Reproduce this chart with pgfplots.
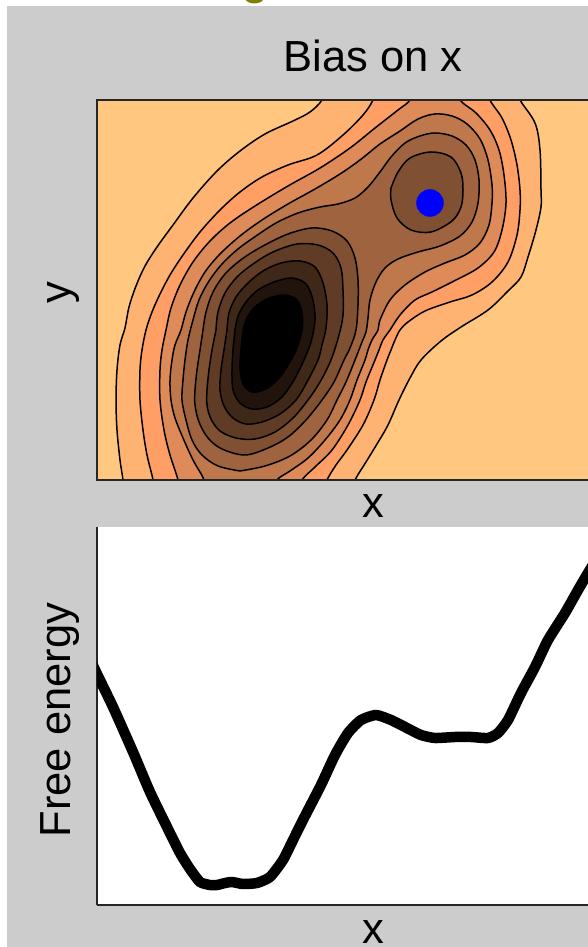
\documentclass[border=0pt]{standalone}
\usepackage{pgfplots}
\pgfplotsset{compat=1.18}
\usepackage{fontspec}
\setmainfont{Liberation Sans}
\definecolor{cuA}{RGB}{255,199,127}
\definecolor{cuB}{RGB}{255,179,114}
\definecolor{cuC}{RGB}{255,159,101}
\definecolor{cuD}{RGB}{223,139,89}
\definecolor{cuE}{RGB}{191,120,76}
\definecolor{cuF}{RGB}{159,100,63}
\definecolor{cuG}{RGB}{128,80,51}
\definecolor{cuH}{RGB}{96,60,38}
\definecolor{cuI}{RGB}{64,40,25}
\definecolor{cuJ}{RGB}{32,20,13}
\definecolor{bgray}{RGB}{204,204,204}
\definecolor{frm}{RGB}{38,38,38}
\definecolor{olivet}{RGB}{128,128,0}
\newcommand{\lbl}{\fontsize{43.5}{50}\selectfont}
\pgfplotsset{cont/.style={draw=black, line width=1.5pt, line join=round, line cap=round, smooth, tension=0.55}}
\begin{document}
\begin{tikzpicture}
\useasboundingbox (0,0) rectangle (588pt,947pt);
\clip (0,0) rectangle (588pt,947pt);
\fill[white] (0,0) rectangle (588pt,947pt);
\fill[bgray] (7pt,0) rectangle (588pt,941pt);
\node[anchor=base, text=olivet, font=\fontsize{50}{56}\selectfont, inner sep=0] at (255pt,953pt) {g};
\node[anchor=base, font=\lbl, inner sep=0] at (373pt,875pt) {Bias on x};
\node[anchor=base, font=\lbl, inner sep=0] at (373pt,429pt) {x};
\node[anchor=base, font=\lbl, inner sep=0] at (373pt,4pt) {x};
\node[anchor=base, rotate=90, font=\lbl, inner sep=0] at (70pt,654pt) {y};
\node[anchor=base, rotate=90, font=\lbl, inner sep=0] at (70pt,227pt) {Free energy};

\begin{axis}[
  at={(373pt,657pt)}, anchor=center,
  scale only axis, width=552pt, height=380pt,
  xmin=97, xmax=649, ymin=100, ymax=480, y dir=reverse,
  ticks=none, axis on top,
  axis background/.style={fill=cuA},
  axis line style={draw=frm, line width=1.6pt},
]
% level 1
\addplot[cont, fill=cuB] coordinates {
(124,495) (123,480) (120,460) (117,430) (116,400) (117,370) (120,345) (125,328) (129,307) (136,286) (145,266) (157,247) (173,225) (193,198) (217,171) (240,151) (265,134) (293,121) (310,112) (322,100) (327,85)
(515,85) (520,100) (535,123) (540,150) (541,190) (541,207) (536,230) (528,257) (521,277) (508,291) (488,310) (461,327) (441,341) (421,360) (410,378) (399,400) (388,425) (377,444) (366,462) (355,480) (350,495)};
% level 2
\addplot[cont, fill=cuC] coordinates {
(154,495) (153,480) (147,455) (143,430) (140,400) (140,370) (142,350) (146,330) (152,312) (160,294) (170,275) (183,255) (200,232) (220,210) (240,192) (262,177) (288,165) (317,155) (343,135) (363,115) (373,100) (377,85)
(488,85) (490,100) (502,118) (511,140) (517,165) (520,190) (520,210) (517,235) (508,262) (492,282) (472,295) (450,302) (425,311) (408,322) (400,330) (395,340) (391,350) (387,360) (380,380) (374,400) (363,425) (347,450) (336,465) (327,480) (322,495)};
% level 3
\addplot[cont, fill=cuD] coordinates {
(179,495) (178,480) (170,455) (164,430) (160,400) (160,370) (162,350) (166,330) (171,308) (180,285) (193,262) (210,241) (230,223) (255,206) (288,186) (320,168) (350,148) (375,128) (398,110) (410,100) (414,85)
(457,85) (460,100) (476,113) (490,130) (499,150) (504,175) (506,203) (502,230) (494,252) (478,268) (456,280) (432,292) (415,300) (400,315) (390,330) (383,340) (379,350) (375,360) (366,382) (360,400) (348,425) (332,450) (315,467) (302,480) (297,495)};
% level 4
\addplot[cont, fill=cuE] coordinates {
(205,495) (204,480) (193,460) (183,438) (175,418) (171,400) (170,380) (172,360) (175,345) (181,330) (186,312) (194,292) (205,272) (220,254) (240,236) (262,220) (288,204) (315,189) (340,174) (360,160) (380,144) (400,131) (418,119) (435,114) (452,116) (467,124) (480,139) (488,160) (492,185) (492,203) (489,225) (480,243) (465,255) (445,263) (425,272) (405,285) (390,300) (380,320) (378,330) (372,340) (368,350) (365,360) (357,380) (350,400) (340,420) (325,440) (308,458) (290,471) (277,480) (272,495)};
% level 5
\addplot[cont, fill=cuF] coordinates {
(240,471) (218,466) (202,455) (192,440) (186,420) (182,400) (183,380) (185,360) (188,340) (193,320) (199,300) (209,281) (222,264) (238,249) (256,236) (276,223) (298,213) (320,207) (338,204) (355,198) (368,187) (380,172) (391,157) (405,143) (420,136) (435,133) (452,136) (466,145) (475,160) (479,180) (478,203) (472,222) (460,236) (440,246) (418,252) (398,259) (385,268) (376,282) (370,300) (368,318) (366,332) (362,342) (355,360) (346,382) (337,400) (327,420) (311,440) (290,456) (265,466) (240,471)};
% level 6 (deep basin)
\addplot[cont, fill=cuG] coordinates {
(203,330) (206,312) (213,292) (225,274) (242,259) (263,246) (288,234) (312,228) (332,231) (347,241) (355,258) (358,280) (358,305) (356,330) (350,348) (344,360) (334,382) (322,400) (306,420) (288,437) (268,448) (245,455) (222,449) (208,438) (199,422) (195,405) (195,390) (197,370) (200,350) (203,330)};
% level 6 (small basin)
\addplot[cont, fill=cuG] coordinates {
(391,188) (398,172) (410,158) (431,152) (451,157) (461,173) (463,190) (461,207) (452,221) (431,232) (411,230) (397,218) (391,200) (391,188)};
% level 7
\addplot[cont, fill=cuH] coordinates {
(216,330) (218,312) (225,293) (237,277) (253,264) (273,252) (297,244) (318,245) (333,253) (341,268) (343,290) (343,315) (339,335) (331,360) (320,382) (308,400) (293,418) (275,432) (255,439) (236,438) (220,431) (211,419) (207,405) (207,390) (209,370) (212,350) (216,330)};
% level 8
\addplot[cont, fill=cuI] coordinates {
(227,330) (229,313) (236,297) (248,283) (263,271) (281,263) (300,261) (315,267) (323,283) (327,305) (326,328) (322,345) (318,360) (307,382) (296,400) (280,414) (262,422) (246,424) (233,418) (224,406) (220,390) (221,370) (224,350) (227,330)};
% level 9
\addplot[cont, fill=cuJ] coordinates {
(235,330) (238,316) (246,302) (258,290) (274,282) (292,278) (306,284) (313,300) (315,320) (311,342) (304,360) (294,380) (282,397) (267,407) (252,409) (240,403) (233,390) (232,370) (233,350) (235,330)};
% level 10
\addplot[cont, fill=black] coordinates {
(243,330) (247,318) (255,307) (267,299) (283,295) (296,299) (302,312) (302,330) (297,348) (291,360) (280,377) (266,389) (252,392) (243,384) (240,368) (241,350) (243,330)};
% current position
\addplot[only marks, mark=*, mark size=13.5pt, mark options={fill=blue, draw=blue}] coordinates {(430,203)};
\end{axis}

\begin{axis}[
  at={(373pt,231pt)}, anchor=center,
  scale only axis, width=552pt, height=378pt,
  xmin=97, xmax=649, ymin=0, ymax=378,
  axis x line=bottom, axis y line=left,
  axis line style={-, draw=frm, line width=1.6pt},
  ticks=none,
  axis background/.style={fill=white},
]
\addplot[black, line width=10.5pt, line join=round, smooth, tension=0.35] coordinates {
(90,246) (97,231) (113,198) (133,153) (150,113) (167,78) (180,52) (190,36) (200,23) (210,20) (217,20) (225,22) (232,23) (243,21) (257,22) (270,28) (283,45) (293,65) (305,89) (321,120) (335,150) (348,172) (361,185) (376,190) (391,185) (405,178) (421,170) (435,167) (455,168) (471,168) (488,167) (498,172) (508,185) (521,212) (535,238) (548,265) (565,292) (578,315) (588,332) (605,360) (620,385)};
\end{axis}
\end{tikzpicture}
\end{document}
